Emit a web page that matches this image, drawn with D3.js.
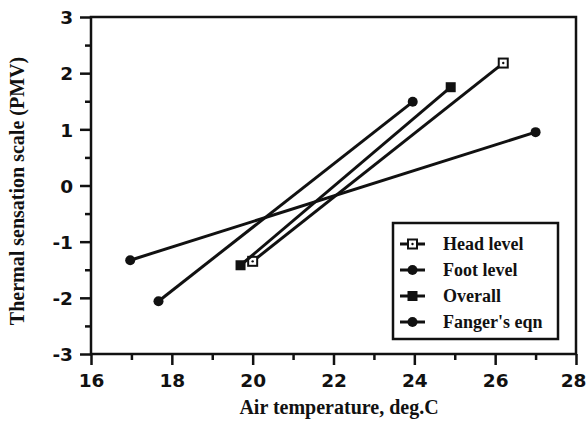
<!DOCTYPE html>
<html lang="en">
<head>
    <meta charset="UTF-8">
    <title>Thermal sensation vs air temperature</title>
    <script src="https://d3js.org/d3.v7.min.js"></script>
    <style>
        body { margin: 0; background: #fff; }
        .tick-label { font-family: "DejaVu Sans", sans-serif; font-weight: bold; font-size: 18.5px; fill: #111; }
        .axis-title { font-family: "Liberation Serif", serif; font-weight: bold; font-size: 20px; fill: #111; }
        .legend-text { font-family: "Liberation Serif", serif; font-weight: bold; font-size: 18px; fill: #111; }
    </style>
</head>
<body>
<svg id="chart" width="587" height="423"></svg>
<script>
    // series data (air temp deg.C, PMV)
    var seriesNames = ["Head level", "Foot level", "Overall", "Fanger's eqn"];
    var headLevel = [[20.0, -1.35], [26.2, 2.18]];
    var footLevel = [[17.67, -2.06], [23.96, 1.49]];
    var overall = [[19.7, -1.42], [24.9, 1.75]];
    var fangerEqn = [[16.97, -1.33], [27.0, 0.95]];
    var markerTypes = ["openSquare", "circle", "square", "circle"];
    var xTicks = [16, 18, 20, 22, 24, 26, 28];
    var yTicks = [-3, -2, -1, 0, 1, 2, 3];

    var allSeries = [headLevel, footLevel, overall, fangerEqn];

    var margin = {left: 91, right: 11, top: 17, bottom: 69};
    var width = 587 - margin.left - margin.right,
        height = 423 - margin.top - margin.bottom;

    var svg = d3.select("#chart");
    var g = svg.append("g").attr("transform", "translate(" + margin.left + "," + margin.top + ")");

    var x = d3.scaleLinear().domain([16, 28]).range([0, width]);
    var y = d3.scaleLinear().domain([-3, 3]).range([height, 0]);

    // frame
    g.append("rect")
        .attr("width", width).attr("height", height)
        .attr("fill", "none").attr("stroke", "#111").attr("stroke-width", 2.5);

    // plain hyphen for negatives, like the original
    var fmt = function(d) { return String(d); };

    // x axis: major ticks with labels, minor ticks in between
    var xAxis = d3.axisBottom(x).tickValues(xTicks).tickSize(11).tickFormat(fmt);
    var xg = g.append("g").attr("transform", "translate(0," + height + ")").call(xAxis);
    xg.select(".domain").remove();
    xg.selectAll(".tick line").attr("stroke", "#111").attr("stroke-width", 2.5);
    xg.selectAll(".tick text").attr("class", "tick-label").attr("dy", "0.95em").attr("y", 15)
        .attr("dx", function(d) { return d === 28 ? -3 : 0; });  // keep last label inside the page
    var xMinor = g.append("g").attr("transform", "translate(0," + height + ")")
        .call(d3.axisBottom(x).tickValues(d3.range(17, 28, 2)).tickSize(6).tickFormat(""));
    xMinor.select(".domain").remove();
    xMinor.selectAll(".tick line").attr("stroke", "#111").attr("stroke-width", 2.5);

    var yAxis = d3.axisLeft(y).tickValues(yTicks).tickSize(11).tickFormat(fmt);
    var yg = g.append("g").call(yAxis);
    yg.select(".domain").remove();
    yg.selectAll(".tick line").attr("stroke", "#111").attr("stroke-width", 2.5);
    yg.selectAll(".tick text").attr("class", "tick-label").attr("x", -18).attr("dy", "0.36em");
    var yMinor = g.append("g")
        .call(d3.axisLeft(y).tickValues(d3.range(-2.5, 3, 1)).tickSize(6).tickFormat(""));
    yMinor.select(".domain").remove();
    yMinor.selectAll(".tick line").attr("stroke", "#111").attr("stroke-width", 2.5);

    // axis titles
    svg.append("text").attr("class", "axis-title")
        .attr("x", 339).attr("y", 414).attr("text-anchor", "middle")
        .text("Air temperature, deg.C");
    svg.append("text").attr("class", "axis-title")
        .attr("transform", "translate(24,191) rotate(-90)").attr("text-anchor", "middle")
        .text("Thermal sensation scale (PMV)");

    function drawMarker(sel, type) {
        if (type === "circle") {
            sel.append("circle").attr("r", 5).attr("fill", "#111");
        } else if (type === "square") {
            sel.append("rect").attr("x", -5).attr("y", -5).attr("width", 10).attr("height", 10).attr("fill", "#111");
        } else {
            sel.append("rect").attr("x", -4.5).attr("y", -4.5).attr("width", 9).attr("height", 9)
                .attr("fill", "#fff").attr("stroke", "#111").attr("stroke-width", 2);
            sel.append("circle").attr("r", 1.2).attr("fill", "#111");
        }
    }

    var line = d3.line().x(function(d) { return x(d[0]); }).y(function(d) { return y(d[1]); });

    allSeries.forEach(function(s, i) {
        g.append("path").datum(s).attr("d", line)
            .attr("fill", "none").attr("stroke", "#111").attr("stroke-width", 3);
        s.forEach(function(p) {
            var m = g.append("g").attr("transform", "translate(" + x(p[0]) + "," + y(p[1]) + ")");
            drawMarker(m, markerTypes[i]);
        });
    });

    // legend
    var legend = svg.append("g").attr("transform", "translate(393,223)");
    legend.append("rect").attr("width", 165).attr("height", 116)
        .attr("fill", "#fff").attr("stroke", "#111").attr("stroke-width", 2.5);
    seriesNames.forEach(function(name, i) {
        var row = legend.append("g").attr("transform", "translate(0," + (21 + i * 26) + ")");
        row.append("line").attr("x1", 7).attr("x2", 32).attr("stroke", "#111").attr("stroke-width", 3);
        drawMarker(row.append("g").attr("transform", "translate(19.5,0)"), markerTypes[i]);
        row.append("text").attr("class", "legend-text").attr("x", 50).attr("dy", "0.35em").text(name);
    });
</script>
</body>
</html>
